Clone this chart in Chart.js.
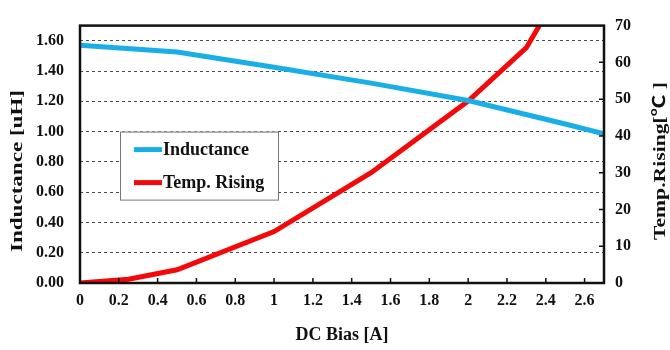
<!DOCTYPE html>
<html>
<head>
<meta charset="utf-8">
<script src="https://cdn.jsdelivr.net/npm/chart.js@4/dist/chart.umd.min.js"></script>
<style>
  html, body { margin: 0; padding: 0; background: #fff; }
  #wrap { width: 670px; height: 350px; }
</style>
</head>
<body>
<div id="wrap"><canvas id="chart" width="670" height="350"></canvas></div>
<script>
// DC bias sweep: inductance (left axis) and temperature rise (right axis)
const biasInd = [0, 0.5, 1.0, 1.5, 2.0, 2.5, 2.7];
const inductance = [1.57, 1.525, 1.425, 1.32, 1.205, 1.05, 0.985];
const biasTemp = [0, 0.25, 0.5, 1.0, 1.5, 2.0, 2.3, 2.4];
const tempRise = [0, 1, 3.6, 14, 30, 49.5, 64, 73];

const xTickLabels = ['0', '0.2', '0.4', '0.6', '0.8', '1', '1.2', '1.4', '1.6', '1.8', '2', '2.2', '2.4', '2.6'];
const indTickLabels = ['0.00', '0.20', '0.40', '0.60', '0.80', '1.00', '1.20', '1.40', '1.60'];
const tempTickLabels = ['0', '10', '20', '30', '40', '50', '60', '70'];

const SERIF = '"Liberation Serif", "Times New Roman", serif';
const BLUE = '#1aaee6';
const RED = '#f5080a';

const toPoints = (xs, ys) => xs.map((x, i) => ({ x, y: ys[i] }));

function verticalTitle(ctx, text, cx, cy, length) {
  ctx.save();
  ctx.translate(cx, cy);
  ctx.rotate(-Math.PI / 2);
  ctx.font = 'bold 17px ' + SERIF + ', "Noto Sans CJK JP"';
  const w = ctx.measureText(text).width;
  ctx.scale(length / w, 1);
  ctx.fillStyle = '#111';
  ctx.textAlign = 'center';
  ctx.textBaseline = 'middle';
  ctx.fillText(text, 0, 0);
  ctx.restore();
}

const framePlugin = {
  id: 'frame',
  afterDatasetsDraw(chart) {
    const { ctx, chartArea: ca } = chart;
    // legend box inside the plot
    const bx = ca.left + 40, by = ca.top + 106, bw = 158, bh = 68;
    ctx.save();
    ctx.fillStyle = '#fff';
    ctx.fillRect(bx, by, bw, bh);
    ctx.strokeStyle = '#777';
    ctx.lineWidth = 1;
    ctx.strokeRect(bx + 0.5, by + 0.5, bw, bh);
    ctx.font = 'bold 18px ' + SERIF;
    ctx.textBaseline = 'middle';
    chart.data.datasets.forEach((ds, i) => {
      const y = by + 18 + i * 33;
      ctx.strokeStyle = ds.borderColor;
      ctx.lineWidth = 5;
      ctx.beginPath();
      ctx.moveTo(bx + 14, y);
      ctx.lineTo(bx + 42, y);
      ctx.stroke();
      ctx.fillStyle = '#111';
      ctx.fillText(ds.label, bx + 43, y + 1);
    });
    ctx.restore();
  },
  afterDraw(chart) {
    const { ctx, chartArea: ca, scales } = chart;
    ctx.save();
    ctx.strokeStyle = '#111';
    ctx.lineWidth = 1.5;
    // small inward ticks on the bottom and right axes
    ctx.beginPath();
    scales.x.ticks.forEach((t, i) => {
      if (i === 0) return;
      const px = scales.x.getPixelForValue(t.value);
      ctx.moveTo(px, ca.bottom);
      ctx.lineTo(px, ca.bottom - 5);
    });
    scales.y1.ticks.forEach((t, i, arr) => {
      if (i === 0 || i === arr.length - 1) return;
      const py = scales.y1.getPixelForValue(t.value);
      ctx.moveTo(ca.right, py);
      ctx.lineTo(ca.right - 5, py);
    });
    ctx.stroke();
    ctx.lineWidth = 2.5;
    ctx.strokeRect(ca.left, ca.top, ca.right - ca.left, ca.bottom - ca.top);
    ctx.restore();

    verticalTitle(ctx, 'Inductance [uH]', 18, 171, 162);
    verticalTitle(ctx, 'Temp.Rising[\u2103 ]', 661, 161, 158);
  }
};

const tickFont = { family: SERIF, size: 16, weight: 'bold' };

new Chart(document.getElementById('chart'), {
  type: 'line',
  data: {
    datasets: [
      {
        label: 'Inductance',
        data: toPoints(biasInd, inductance),
        yAxisID: 'y',
        borderColor: BLUE,
        borderWidth: 5,
        pointRadius: 0,
        tension: 0,
        fill: false
      },
      {
        label: 'Temp. Rising',
        data: toPoints(biasTemp, tempRise),
        yAxisID: 'y1',
        borderColor: RED,
        borderWidth: 5,
        pointRadius: 0,
        tension: 0,
        fill: false
      }
    ]
  },
  plugins: [framePlugin],
  options: {
    responsive: false,
    animation: false,
    layout: { padding: { top: 15, left: 0, right: 0, bottom: 0 } },
    plugins: {
      legend: { display: false },
      tooltip: { enabled: false }
    },
    scales: {
      x: {
        type: 'linear',
        min: 0,
        max: 2.7,
        grid: { display: false, drawTicks: false },
        border: { display: false },
        ticks: {
          stepSize: 0.2,
          includeBounds: false,
          padding: 8,
          maxRotation: 0,
          autoSkip: false,
          color: '#111',
          font: tickFont,
          callback: (v, i) => xTickLabels[i]
        },
        title: {
          display: true,
          text: 'DC Bias [A]',
          color: '#111',
          font: { family: SERIF, size: 18, weight: 'bold' },
          padding: { top: 4, bottom: 4 }
        },
        afterFit: s => { s.height = 67; }
      },
      y: {
        position: 'left',
        min: 0,
        max: 1.7,
        grid: { color: '#4a4a4a', lineWidth: 1, drawTicks: false },
        border: { display: false, dash: [3, 3] },
        ticks: {
          stepSize: 0.2,
          includeBounds: false,
          padding: 16,
          color: '#111',
          font: tickFont,
          callback: (v, i) => indTickLabels[i]
        },
        afterFit: s => { s.width = 80; }
      },
      y1: {
        position: 'right',
        min: 0,
        max: 70,
        grid: { display: false, drawTicks: false },
        border: { display: false },
        ticks: {
          stepSize: 10,
          padding: 11,
          color: '#111',
          font: tickFont,
          callback: (v, i) => tempTickLabels[i]
        },
        afterFit: s => { s.width = 66; }
      }
    }
  }
});
</script>
</body>
</html>
